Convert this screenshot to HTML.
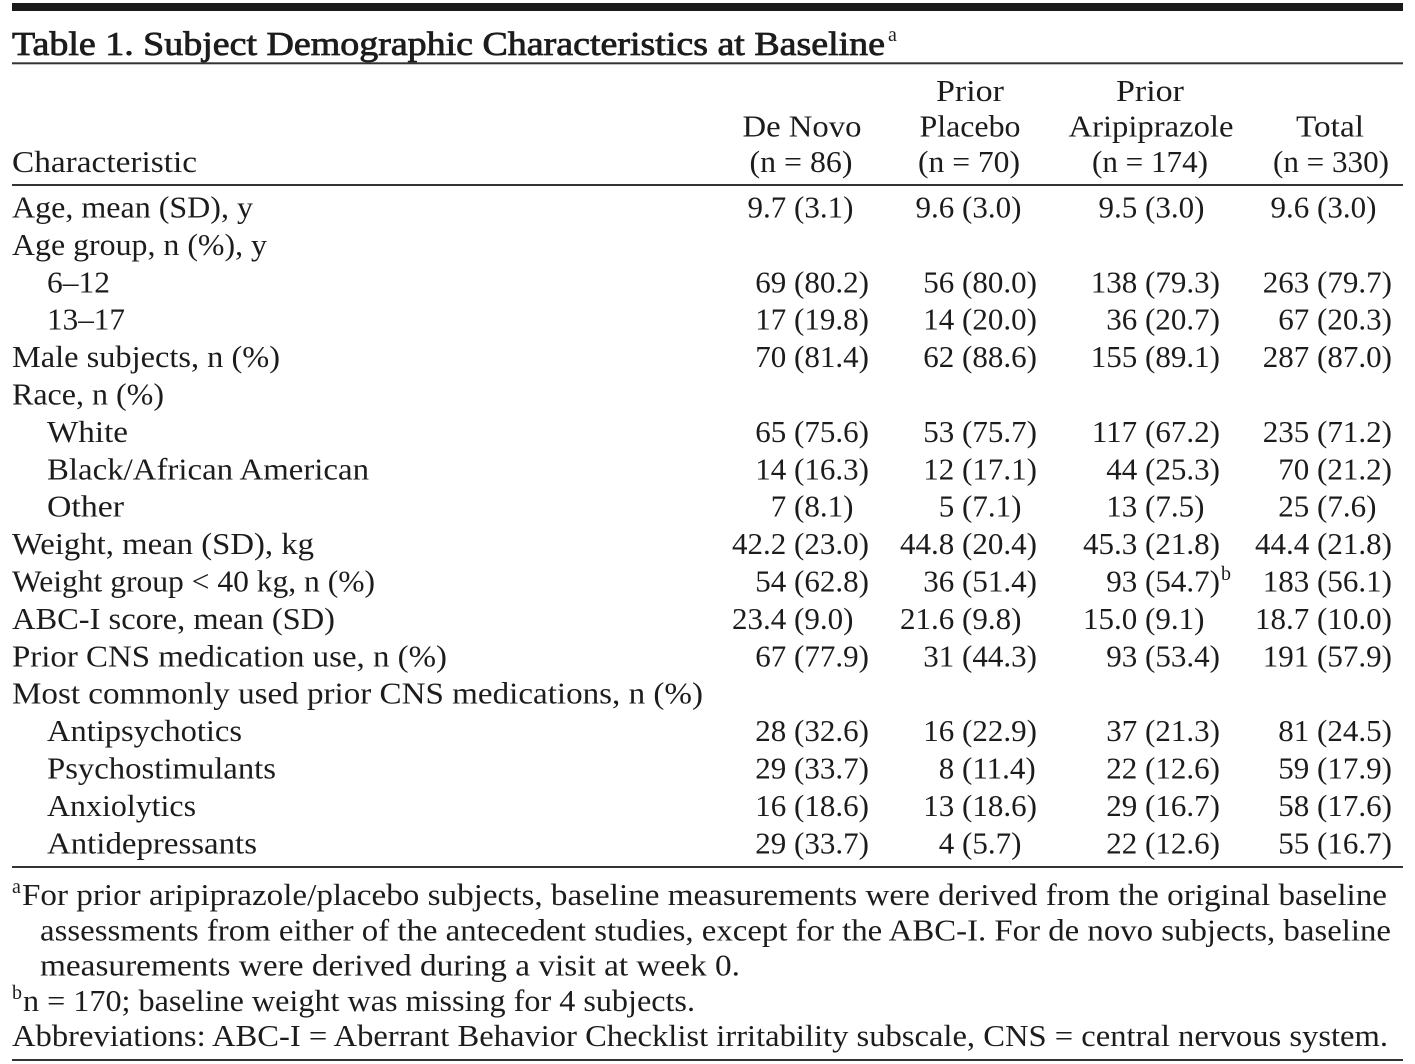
<!DOCTYPE html>
<html>
<head>
<meta charset="utf-8">
<style>
  html,body{margin:0;padding:0;background:#fff;}
  svg{display:block;}
  text{font-family:"Liberation Serif","DejaVu Serif",serif;fill:#1c1c1c;}
  .b{font-size:31px;}
  .f{font-size:30.5px;}
  .t{font-size:34px;font-weight:normal;stroke:#1c1c1c;stroke-width:0.8px;}
  .s{font-size:20px;}
</style>
</head>
<body>
<svg width="1415" height="1064" viewBox="0 0 1415 1064" xmlns="http://www.w3.org/2000/svg">
  <!-- rules -->
  <rect x="12" y="3" width="1391" height="8" fill="#1a1a1a"/>
  <rect x="12" y="62.3" width="1391" height="2" fill="#333"/>
  <rect x="12" y="184" width="1391" height="2" fill="#333"/>
  <rect x="12" y="866" width="1391" height="2" fill="#333"/>
  <rect x="12" y="1059" width="1391" height="2" fill="#333"/>

  <!-- title -->
  <text class="t" x="12" y="55" textLength="873" lengthAdjust="spacingAndGlyphs">Table 1. Subject Demographic Characteristics at Baseline</text>
  <text class="s" x="888" y="41">a</text>

  <!-- header -->
  <g class="b" text-anchor="middle">
    <text x="970" y="101" textLength="68" lengthAdjust="spacingAndGlyphs">Prior</text>
    <text x="1150" y="101" textLength="68" lengthAdjust="spacingAndGlyphs">Prior</text>
    <text x="802" y="136.5" textLength="119" lengthAdjust="spacingAndGlyphs">De Novo</text>
    <text x="970" y="136.5" textLength="101" lengthAdjust="spacingAndGlyphs">Placebo</text>
    <text x="1151" y="136.5" textLength="165" lengthAdjust="spacingAndGlyphs">Aripiprazole</text>
    <text x="1330" y="136.5" textLength="68" lengthAdjust="spacingAndGlyphs">Total</text>
    <text x="801" y="172" textLength="103" lengthAdjust="spacingAndGlyphs">(n = 86)</text>
    <text x="969" y="172" textLength="102" lengthAdjust="spacingAndGlyphs">(n = 70)</text>
    <text x="1150" y="172" textLength="116" lengthAdjust="spacingAndGlyphs">(n = 174)</text>
    <text x="1331" y="172" textLength="116" lengthAdjust="spacingAndGlyphs">(n = 330)</text>
  </g>
  <text class="b" x="12" y="172" textLength="185" lengthAdjust="spacingAndGlyphs">Characteristic</text>

  <!-- row labels -->
  <g class="b">
    <text x="12" y="217.5" textLength="241" lengthAdjust="spacingAndGlyphs">Age, mean (SD), y</text>
    <text x="12" y="254.9" textLength="255" lengthAdjust="spacingAndGlyphs">Age group, n (%), y</text>
    <text x="47" y="292.3" textLength="63" lengthAdjust="spacingAndGlyphs">6–12</text>
    <text x="47" y="329.7" textLength="78" lengthAdjust="spacingAndGlyphs">13–17</text>
    <text x="12" y="367.1" textLength="268" lengthAdjust="spacingAndGlyphs">Male subjects, n (%)</text>
    <text x="12" y="404.5" textLength="152" lengthAdjust="spacingAndGlyphs">Race, n (%)</text>
    <text x="47" y="441.9" textLength="81" lengthAdjust="spacingAndGlyphs">White</text>
    <text x="47" y="479.3" textLength="322" lengthAdjust="spacingAndGlyphs">Black/African American</text>
    <text x="47" y="516.7" textLength="77" lengthAdjust="spacingAndGlyphs">Other</text>
    <text x="12" y="554.1" textLength="302" lengthAdjust="spacingAndGlyphs">Weight, mean (SD), kg</text>
    <text x="12" y="591.5" textLength="363" lengthAdjust="spacingAndGlyphs">Weight group &lt; 40 kg, n (%)</text>
    <text x="12" y="628.9" textLength="323" lengthAdjust="spacingAndGlyphs">ABC-I score, mean (SD)</text>
    <text x="12" y="666.3" textLength="435" lengthAdjust="spacingAndGlyphs">Prior CNS medication use, n (%)</text>
    <text x="12" y="703.7" textLength="691" lengthAdjust="spacingAndGlyphs">Most commonly used prior CNS medications, n (%)</text>
    <text x="47" y="741.1" textLength="195" lengthAdjust="spacingAndGlyphs">Antipsychotics</text>
    <text x="47" y="778.5" textLength="229" lengthAdjust="spacingAndGlyphs">Psychostimulants</text>
    <text x="47" y="815.9" textLength="149" lengthAdjust="spacingAndGlyphs">Anxiolytics</text>
    <text x="47" y="853.3" textLength="210" lengthAdjust="spacingAndGlyphs">Antidepressants</text>
  </g>

  <!-- data: left parts (end-anchored before paren) -->
  <g class="b" text-anchor="end">
    <text x="786.2" y="217.5">9.7</text>
    <text x="786.2" y="292.3">69</text>
    <text x="786.2" y="329.7">17</text>
    <text x="786.2" y="367.1">70</text>
    <text x="786.2" y="441.9">65</text>
    <text x="786.2" y="479.3">14</text>
    <text x="786.2" y="516.7">7</text>
    <text x="786.2" y="554.1">42.2</text>
    <text x="786.2" y="591.5">54</text>
    <text x="786.2" y="628.9">23.4</text>
    <text x="786.2" y="666.3">67</text>
    <text x="786.2" y="741.1">28</text>
    <text x="786.2" y="778.5">29</text>
    <text x="786.2" y="815.9">16</text>
    <text x="786.2" y="853.3">29</text>

    <text x="954.2" y="217.5">9.6</text>
    <text x="954.2" y="292.3">56</text>
    <text x="954.2" y="329.7">14</text>
    <text x="954.2" y="367.1">62</text>
    <text x="954.2" y="441.9">53</text>
    <text x="954.2" y="479.3">12</text>
    <text x="954.2" y="516.7">5</text>
    <text x="954.2" y="554.1">44.8</text>
    <text x="954.2" y="591.5">36</text>
    <text x="954.2" y="628.9">21.6</text>
    <text x="954.2" y="666.3">31</text>
    <text x="954.2" y="741.1">16</text>
    <text x="954.2" y="778.5">8</text>
    <text x="954.2" y="815.9">13</text>
    <text x="954.2" y="853.3">4</text>

    <text x="1137.2" y="217.5">9.5</text>
    <text x="1137.2" y="292.3">138</text>
    <text x="1137.2" y="329.7">36</text>
    <text x="1137.2" y="367.1">155</text>
    <text x="1137.2" y="441.9">117</text>
    <text x="1137.2" y="479.3">44</text>
    <text x="1137.2" y="516.7">13</text>
    <text x="1137.2" y="554.1">45.3</text>
    <text x="1137.2" y="591.5">93</text>
    <text x="1137.2" y="628.9">15.0</text>
    <text x="1137.2" y="666.3">93</text>
    <text x="1137.2" y="741.1">37</text>
    <text x="1137.2" y="778.5">22</text>
    <text x="1137.2" y="815.9">29</text>
    <text x="1137.2" y="853.3">22</text>

    <text x="1309.2" y="217.5">9.6</text>
    <text x="1309.2" y="292.3">263</text>
    <text x="1309.2" y="329.7">67</text>
    <text x="1309.2" y="367.1">287</text>
    <text x="1309.2" y="441.9">235</text>
    <text x="1309.2" y="479.3">70</text>
    <text x="1309.2" y="516.7">25</text>
    <text x="1309.2" y="554.1">44.4</text>
    <text x="1309.2" y="591.5">183</text>
    <text x="1309.2" y="628.9">18.7</text>
    <text x="1309.2" y="666.3">191</text>
    <text x="1309.2" y="741.1">81</text>
    <text x="1309.2" y="778.5">59</text>
    <text x="1309.2" y="815.9">58</text>
    <text x="1309.2" y="853.3">55</text>
  </g>

  <!-- data: right parts (start at paren) -->
  <g class="b">
    <text x="794" y="217.5">(3.1)</text>
    <text x="794" y="292.3">(80.2)</text>
    <text x="794" y="329.7">(19.8)</text>
    <text x="794" y="367.1">(81.4)</text>
    <text x="794" y="441.9">(75.6)</text>
    <text x="794" y="479.3">(16.3)</text>
    <text x="794" y="516.7">(8.1)</text>
    <text x="794" y="554.1">(23.0)</text>
    <text x="794" y="591.5">(62.8)</text>
    <text x="794" y="628.9">(9.0)</text>
    <text x="794" y="666.3">(77.9)</text>
    <text x="794" y="741.1">(32.6)</text>
    <text x="794" y="778.5">(33.7)</text>
    <text x="794" y="815.9">(18.6)</text>
    <text x="794" y="853.3">(33.7)</text>

    <text x="962" y="217.5">(3.0)</text>
    <text x="962" y="292.3">(80.0)</text>
    <text x="962" y="329.7">(20.0)</text>
    <text x="962" y="367.1">(88.6)</text>
    <text x="962" y="441.9">(75.7)</text>
    <text x="962" y="479.3">(17.1)</text>
    <text x="962" y="516.7">(7.1)</text>
    <text x="962" y="554.1">(20.4)</text>
    <text x="962" y="591.5">(51.4)</text>
    <text x="962" y="628.9">(9.8)</text>
    <text x="962" y="666.3">(44.3)</text>
    <text x="962" y="741.1">(22.9)</text>
    <text x="962" y="778.5">(11.4)</text>
    <text x="962" y="815.9">(18.6)</text>
    <text x="962" y="853.3">(5.7)</text>

    <text x="1145" y="217.5">(3.0)</text>
    <text x="1145" y="292.3">(79.3)</text>
    <text x="1145" y="329.7">(20.7)</text>
    <text x="1145" y="367.1">(89.1)</text>
    <text x="1145" y="441.9">(67.2)</text>
    <text x="1145" y="479.3">(25.3)</text>
    <text x="1145" y="516.7">(7.5)</text>
    <text x="1145" y="554.1">(21.8)</text>
    <text x="1145" y="591.5">(54.7)</text>
    <text x="1145" y="628.9">(9.1)</text>
    <text x="1145" y="666.3">(53.4)</text>
    <text x="1145" y="741.1">(21.3)</text>
    <text x="1145" y="778.5">(12.6)</text>
    <text x="1145" y="815.9">(16.7)</text>
    <text x="1145" y="853.3">(12.6)</text>

    <text x="1317" y="217.5">(3.0)</text>
    <text x="1317" y="292.3">(79.7)</text>
    <text x="1317" y="329.7">(20.3)</text>
    <text x="1317" y="367.1">(87.0)</text>
    <text x="1317" y="441.9">(71.2)</text>
    <text x="1317" y="479.3">(21.2)</text>
    <text x="1317" y="516.7">(7.6)</text>
    <text x="1317" y="554.1">(21.8)</text>
    <text x="1317" y="591.5">(56.1)</text>
    <text x="1317" y="628.9">(10.0)</text>
    <text x="1317" y="666.3">(57.9)</text>
    <text x="1317" y="741.1">(24.5)</text>
    <text x="1317" y="778.5">(17.9)</text>
    <text x="1317" y="815.9">(17.6)</text>
    <text x="1317" y="853.3">(16.7)</text>
  </g>
  <text class="s" x="1221" y="580">b</text>

  <!-- footnotes -->
  <text class="s" x="12" y="893">a</text>
  <text class="f" x="22" y="905" textLength="1365" lengthAdjust="spacingAndGlyphs">For prior aripiprazole/placebo subjects, baseline measurements were derived from the original baseline</text>
  <text class="f" x="40" y="940.3" textLength="1351" lengthAdjust="spacingAndGlyphs">assessments from either of the antecedent studies, except for the ABC-I. For de novo subjects, baseline</text>
  <text class="f" x="40" y="975.6" textLength="700" lengthAdjust="spacingAndGlyphs">measurements were derived during a visit at week 0.</text>
  <text class="s" x="12" y="999">b</text>
  <text class="f" x="23" y="1010.9" textLength="672" lengthAdjust="spacingAndGlyphs">n = 170; baseline weight was missing for 4 subjects.</text>
  <text class="f" x="12" y="1046.2" textLength="1376" lengthAdjust="spacingAndGlyphs">Abbreviations: ABC-I = Aberrant Behavior Checklist irritability subscale, CNS = central nervous system.</text>
</svg>
</body>
</html>
